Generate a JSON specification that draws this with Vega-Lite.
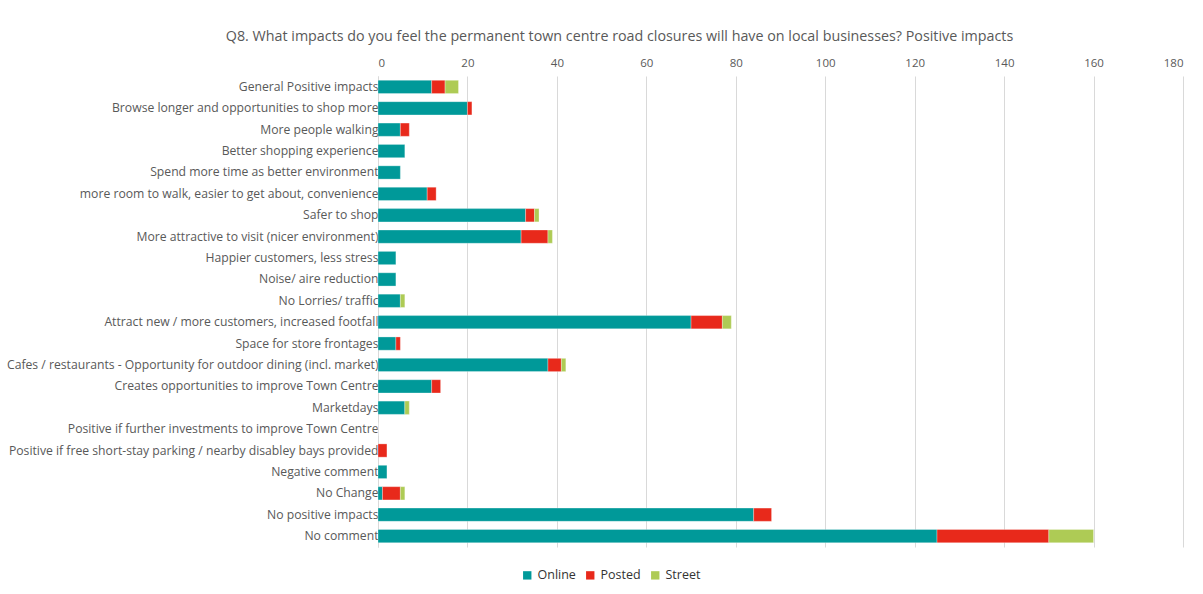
{
  "$schema": "https://vega.github.io/schema/vega-lite/v6.json",
  "width": 805,
  "height": 471,
  "autosize": {"type": "none"},
  "padding": {"left": 378, "top": 76, "right": 20, "bottom": 47},
  "background": "#ffffff",
  "title": {
    "text": "Q8. What impacts do you feel the permanent town centre road closures will have on local businesses? Positive impacts",
    "anchor": "middle",
    "frame": "group",
    "dx": -161,
    "offset": 13,
    "font": "Open Sans",
    "fontSize": 14.3,
    "fontWeight": "normal",
    "color": "#595959"
  },
  "data": {
    "values": [
      {"category": "General Positive impacts", "source": "Online", "value": 12},
      {"category": "General Positive impacts", "source": "Posted", "value": 3},
      {"category": "General Positive impacts", "source": "Street", "value": 3},
      {"category": "Browse longer and opportunities to shop more", "source": "Online", "value": 20},
      {"category": "Browse longer and opportunities to shop more", "source": "Posted", "value": 1},
      {"category": "More people walking", "source": "Online", "value": 5},
      {"category": "More people walking", "source": "Posted", "value": 2},
      {"category": "Better shopping experience", "source": "Online", "value": 6},
      {"category": "Spend more time as better environment", "source": "Online", "value": 5},
      {"category": "more room to walk, easier to get about, convenience", "source": "Online", "value": 11},
      {"category": "more room to walk, easier to get about, convenience", "source": "Posted", "value": 2},
      {"category": "Safer to shop", "source": "Online", "value": 33},
      {"category": "Safer to shop", "source": "Posted", "value": 2},
      {"category": "Safer to shop", "source": "Street", "value": 1},
      {"category": "More attractive to visit (nicer environment)", "source": "Online", "value": 32},
      {"category": "More attractive to visit (nicer environment)", "source": "Posted", "value": 6},
      {"category": "More attractive to visit (nicer environment)", "source": "Street", "value": 1},
      {"category": "Happier customers, less stress", "source": "Online", "value": 4},
      {"category": "Noise/ aire reduction", "source": "Online", "value": 4},
      {"category": "No Lorries/ traffic", "source": "Online", "value": 5},
      {"category": "No Lorries/ traffic", "source": "Street", "value": 1},
      {"category": "Attract new / more customers, increased footfall", "source": "Online", "value": 70},
      {"category": "Attract new / more customers, increased footfall", "source": "Posted", "value": 7},
      {"category": "Attract new / more customers, increased footfall", "source": "Street", "value": 2},
      {"category": "Space for store frontages", "source": "Online", "value": 4},
      {"category": "Space for store frontages", "source": "Posted", "value": 1},
      {"category": "Cafes / restaurants - Opportunity for outdoor dining (incl. market)", "source": "Online", "value": 38},
      {"category": "Cafes / restaurants - Opportunity for outdoor dining (incl. market)", "source": "Posted", "value": 3},
      {"category": "Cafes / restaurants - Opportunity for outdoor dining (incl. market)", "source": "Street", "value": 1},
      {"category": "Creates opportunities to improve Town Centre", "source": "Online", "value": 12},
      {"category": "Creates opportunities to improve Town Centre", "source": "Posted", "value": 2},
      {"category": "Marketdays", "source": "Online", "value": 6},
      {"category": "Marketdays", "source": "Street", "value": 1},
      {"category": "Positive if further investments to improve Town Centre", "source": "Online", "value": 0},
      {"category": "Positive if free short-stay parking / nearby disabley bays provided", "source": "Posted", "value": 2},
      {"category": "Negative comment", "source": "Online", "value": 2},
      {"category": "No Change", "source": "Online", "value": 1},
      {"category": "No Change", "source": "Posted", "value": 4},
      {"category": "No Change", "source": "Street", "value": 1},
      {"category": "No positive impacts", "source": "Online", "value": 84},
      {"category": "No positive impacts", "source": "Posted", "value": 4},
      {"category": "No comment", "source": "Online", "value": 125},
      {"category": "No comment", "source": "Posted", "value": 25},
      {"category": "No comment", "source": "Street", "value": 10}
    ]
  },
  "mark": {"type": "bar", "stroke": "#ffffff", "strokeWidth": 0.5, "strokeOpacity": 0.6},
  "encoding": {
    "y": {
      "field": "category",
      "type": "nominal",
      "sort": null,
      "scale": {"paddingInner": 0.38, "paddingOuter": 0.2},
      "axis": {
        "title": null,
        "ticks": false,
        "domain": true,
        "domainColor": "#d9d9d9",
        "labelFont": "Open Sans",
        "labelFontSize": 12.2,
        "labelColor": "#595959",
        "labelPadding": 0,
        "labelLimit": 420
      }
    },
    "x": {
      "field": "value",
      "type": "quantitative",
      "stack": "zero",
      "scale": {"domain": [0, 180], "nice": false},
      "axis": {
        "orient": "top",
        "title": null,
        "values": [0, 20, 40, 60, 80, 100, 120, 140, 160, 180],
        "grid": true,
        "gridColor": "#d9d9d9",
        "gridWidth": 1,
        "domain": false,
        "ticks": false,
        "labelFont": "Open Sans",
        "labelFontSize": 11.5,
        "labelColor": "#595959",
        "labelPadding": 8
      }
    },
    "color": {
      "field": "source",
      "type": "nominal",
      "scale": {"domain": ["Online", "Posted", "Street"], "range": ["#009999", "#E8291B", "#AECB55"]},
      "legend": {
        "title": null,
        "orient": "none",
        "direction": "horizontal",
        "legendX": 143,
        "legendY": 493,
        "symbolType": "square",
        "symbolSize": 70,
        "symbolStrokeWidth": 0,
        "labelFont": "Open Sans",
        "labelFontSize": 12.5,
        "labelColor": "#333333",
        "labelOffset": 4,
        "columnPadding": 8
      }
    }
  },
  "config": {
    "view": {"stroke": null}
  }
}
